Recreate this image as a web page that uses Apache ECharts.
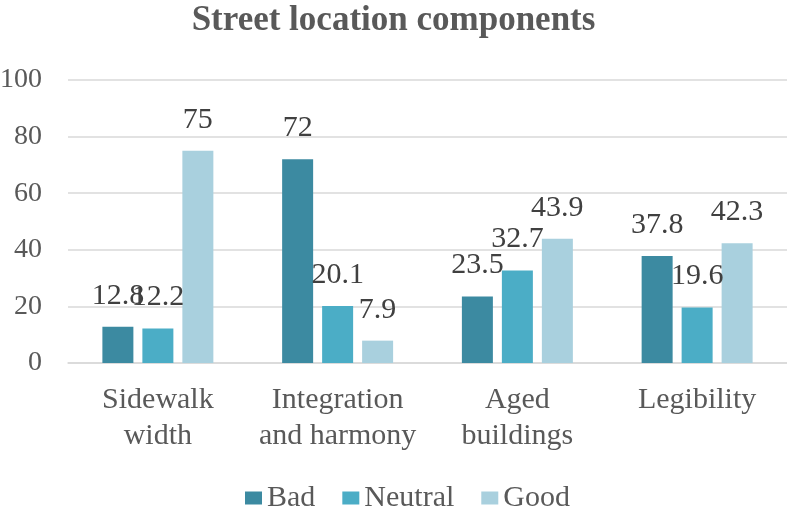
<!DOCTYPE html>
<html><head><meta charset="utf-8">
<script src="https://cdn.jsdelivr.net/npm/echarts@6/dist/echarts.min.js"></script>
<style>html,body{margin:0;padding:0;background:#fff}#c{width:787px;height:514px}</style>
</head><body><div id="c"></div>
<script>
const categories = ['Sidewalk\nwidth', 'Integration\nand harmony', 'Aged\nbuildings', 'Legibility'];
const seriesNames = ['Bad', 'Neutral', 'Good'];
const bad = [12.8, 72, 23.5, 37.8];
const neutral = [12.2, 20.1, 32.7, 19.6];
const good = [75, 7.9, 43.9, 42.3];
const yTicks = [0, 20, 40, 60, 80, 100];
const colors = ['#3C8AA1', '#4BADC6', '#A9D0DE'];
const values = [bad, neutral, good];
const font = '"Liberation Serif", "Times New Roman", serif';
const chart = echarts.init(document.getElementById('c'));
chart.setOption({
  animation: false,
  textStyle: { fontFamily: font },
  title: { text: 'Street location components', left: 'center', top: -2,
    textStyle: { fontFamily: font, fontSize: 35, fontWeight: 'bold', color: '#595959' } },
  legend: { bottom: -4, left: 240, itemWidth: 17, itemHeight: 13, itemGap: 27, icon: 'rect',
    textStyle: { fontFamily: font, fontSize: 30, color: '#595959' },
    data: seriesNames },
  grid: { left: 68, right: 0, top: 80, bottom: 151, containLabel: false, outerBoundsMode: 'none' },
  xAxis: { type: 'category', data: categories,
    axisLine: { lineStyle: { color: '#D9D9D9', width: 1.5 } }, axisTick: { show: false },
    axisLabel: { fontFamily: font, fontSize: 30, color: '#595959', lineHeight: 36, margin: 19, interval: 0 } },
  yAxis: { type: 'value', min: yTicks[0], max: yTicks[yTicks.length - 1], interval: 20,
    axisLine: { show: false }, axisTick: { show: false },
    splitLine: { lineStyle: { color: '#D9D9D9', width: 1.5 } },
    axisLabel: { fontFamily: font, fontSize: 28, color: '#595959', margin: 26 } },
  series: seriesNames.map((n, i) => ({
    name: n, type: 'bar', data: values[i], barWidth: 31, barGap: '29%', barCategoryGap: '37%',
    itemStyle: { color: colors[i] },
    label: { show: true, position: 'top', distance: 16, fontFamily: font, fontSize: 30, color: '#404040' }
  }))
});
</script></body></html>
